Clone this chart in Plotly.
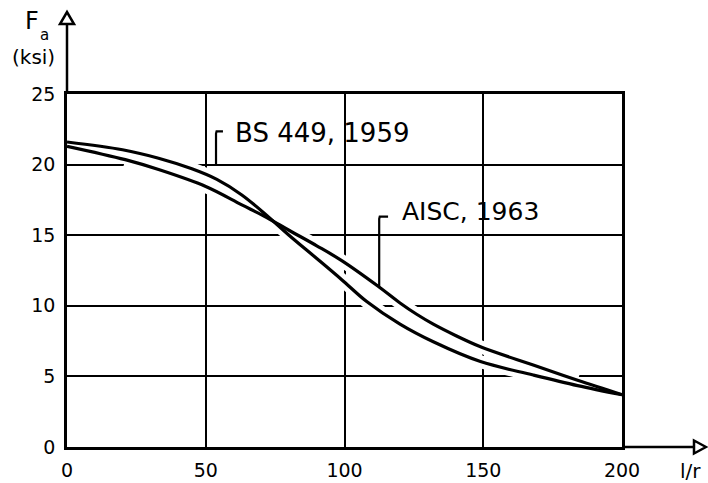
import plotly.graph_objects as go

# ---------------- data ----------------
x_ticks = [0, 50, 100, 150, 200]
y_ticks = [0, 5, 10, 15, 20, 25]

bs_lr = [0, 20, 33, 45, 54, 63, 72, 80, 90, 99, 108, 120, 132, 149, 168, 184, 200]
bs_fa = [21.6, 21.05, 20.45, 19.7, 18.95, 17.85, 16.4, 15.0, 13.35, 11.85, 10.3, 8.7, 7.45, 6.05, 5.1, 4.35, 3.7]

aisc_lr = [0, 21, 33, 50, 63, 72, 80, 90, 99, 112, 120, 126, 132, 140, 149, 168, 184, 200]
aisc_fa = [21.3, 20.35, 19.65, 18.45, 17.15, 16.25, 15.35, 14.25, 13.2, 11.4, 10.2, 9.4, 8.7, 7.9, 7.1, 5.8, 4.72, 3.7]

bs_label = "BS 449, 1959"
aisc_label = "AISC, 1963"
bs_label_pos = (59.8, 22.25)
aisc_label_pos = (120.0, 16.66)
bs_leader_lr = [56.2, 53.9, 53.7, 53.7]
bs_leader_fa = [22.35, 22.35, 22.2, 20.0]
aisc_leader_lr = [115.7, 112.7, 112.5, 112.5]
aisc_leader_fa = [16.31, 16.31, 16.15, 11.35]

FONT = "DejaVu Sans"

fig = go.Figure()

# white halos so that gridlines are broken where the curves cross them
def trimmed(xs, ys, lo=3, hi=197):
    pts = [(a, b) for a, b in zip(xs, ys) if lo <= a <= hi]
    return [p[0] for p in pts], [p[1] for p in pts]

for xs, ys in [(bs_lr, bs_fa), (aisc_lr, aisc_fa)]:
    hx, hy = trimmed(xs, ys)
    fig.add_trace(go.Scatter(x=hx, y=hy, mode="lines", line=dict(color="white", width=13, shape="spline"),
                             hoverinfo="skip"))

for xs, ys, nm in [(bs_lr, bs_fa, bs_label), (aisc_lr, aisc_fa, aisc_label)]:
    fig.add_trace(go.Scatter(x=xs, y=ys, mode="lines", name=nm,
                             line=dict(color="black", width=3.2, shape="spline")))

for xs, ys in [(bs_leader_lr, bs_leader_fa), (aisc_leader_lr, aisc_leader_fa)]:
    fig.add_trace(go.Scatter(x=xs, y=ys, mode="lines", line=dict(color="black", width=2.2),
                             hoverinfo="skip"))

axis_common = dict(showgrid=True, gridcolor="black", gridwidth=2.2, showline=True, linecolor="black",
                   linewidth=2.6, mirror=True, zeroline=False, ticks="", layer="above traces",
                   automargin=False,
                   tickfont=dict(family=FONT, size=19, color="black"), fixedrange=True)

fig.update_xaxes(range=[0, 200], tickvals=x_ticks, ticktext=[str(v) for v in x_ticks],
                 ticklabelstandoff=4, **axis_common)
fig.update_yaxes(range=[0, 25], tickvals=y_ticks, ticktext=[str(v) for v in y_ticks],
                 ticklabelstandoff=5, **axis_common)

# axis arrows (pixel-sized, anchored at plot corners)
def pshape(path, ax, ay, fill=None):
    d = dict(type="path", xref="paper", yref="paper", xsizemode="pixel", ysizemode="pixel",
             xanchor=ax, yanchor=ay, path=path, line=dict(color="black", width=2.5))
    if fill:
        d["fillcolor"] = fill
    return d

shapes = [
    pshape("M 0 0 L 0 70", 0, 1),
    pshape("M -7 70 L 7 70 L 0 82 Z", 0, 1, "white"),
    pshape("M 0 0 L 72 0", 1, 0),
    pshape("M 72 -6.5 L 72 6.5 L 84 0 Z", 1, 0, "white"),
]

annotations = [
    dict(text=bs_label, x=bs_label_pos[0], y=bs_label_pos[1], xref="x", yref="y", xanchor="left",
         yanchor="middle", showarrow=False, font=dict(family=FONT, size=26, color="black")),
    dict(text=aisc_label, x=aisc_label_pos[0], y=aisc_label_pos[1], xref="x", yref="y", xanchor="left",
         yanchor="middle", showarrow=False, font=dict(family=FONT, size=25, color="black")),
    dict(text="F", x=0, y=1, xref="paper", yref="paper", xshift=-35, yshift=73, showarrow=False,
         xanchor="center", yanchor="middle", font=dict(family=FONT, size=24, color="black")),
    dict(text="a", x=0, y=1, xref="paper", yref="paper", xshift=-23, yshift=59, showarrow=False,
         xanchor="center", yanchor="middle", font=dict(family=FONT, size=15, color="black")),
    dict(text="(ksi)", x=0, y=1, xref="paper", yref="paper", xshift=-34, yshift=37, showarrow=False,
         xanchor="center", yanchor="middle", font=dict(family=FONT, size=20, color="black")),
    dict(text="l/r", x=1, y=0, xref="paper", yref="paper", xshift=68, yshift=-24, showarrow=False,
         xanchor="center", yanchor="middle", font=dict(family=FONT, size=20, color="black")),
]

fig.update_layout(width=708, height=483, margin=dict(l=67, r=86, t=94, b=36, autoexpand=False),
                  plot_bgcolor="white", paper_bgcolor="white", showlegend=False,
                  shapes=shapes, annotations=annotations)

fig.write_html("out.html")
